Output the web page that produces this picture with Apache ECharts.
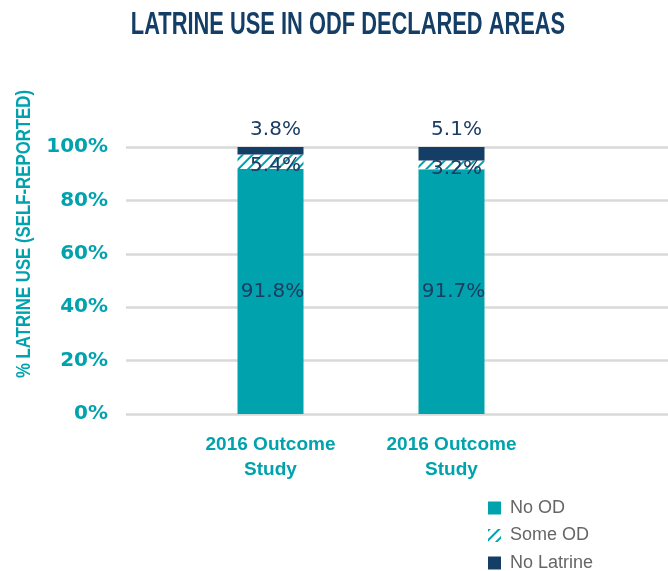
<!DOCTYPE html>
<html>
<head>
<meta charset="utf-8">
<script src="https://cdn.jsdelivr.net/npm/echarts@6/dist/echarts.min.js"></script>
<style>
  html, body { margin: 0; padding: 0; background: #fff; }
  #chart { width: 668px; height: 571px; }
</style>
</head>
<body>
<div id="chart"></div>
<script>
// data
var categories = ['2016 Outcome\nStudy', '2016 Outcome\nStudy', ''];
var noOD = [91.8, 91.7];
var someOD = [5.4, 3.2];
var noLatrine = [3.8, 5.1];
var yTicks = [0, 20, 40, 60, 80, 100];

var teal = '#00a3ad';
var navy = '#143e66';

var chart = echarts.init(document.getElementById('chart'));

var labelStyle = {
  show: true,
  color: '#1b3d63',
  fontFamily: 'DejaVu Sans',
  fontSize: 20,
  formatter: function (p) { return p.value.toFixed(1) + '%'; }
};

var option = {
  animation: false,
  grid: [
    // gridlines + y labels
    { left: 126, right: 0, top: 147, bottom: 157, outerBoundsMode: 'none' },
    // the bars
    { left: 180, width: 543, top: 147, bottom: 157, outerBoundsMode: 'none' }
  ],
  xAxis: [
    { gridIndex: 0, type: 'value', show: false },
    {
      gridIndex: 1,
      type: 'category',
      data: categories,
      axisLine: { show: false },
      axisTick: { show: false },
      axisLabel: {
        margin: 18,
        interval: 0,
        color: teal,
        fontFamily: 'Liberation Sans',
        fontWeight: 'bold',
        fontSize: 19,
        lineHeight: 25
      }
    }
  ],
  yAxis: [
    {
      gridIndex: 0,
      type: 'value',
      min: 0,
      max: 100,
      interval: 20,
      axisLine: { show: false },
      axisTick: { show: false },
      splitLine: { lineStyle: { color: '#d9d9d9', width: 2.5 } },
      axisLabel: {
        margin: 18,
        color: teal,
        fontFamily: 'DejaVu Sans',
        fontWeight: 'bold',
        fontSize: 20,
        formatter: function (v) { return yTicks.indexOf(v) >= 0 ? v + '%' : ''; }
      }
    },
    { gridIndex: 1, type: 'value', min: 0, max: 100, show: false }
  ],
  legend: {
    orient: 'vertical',
    left: 488,
    top: 499,
    height: 120,
    padding: 0,
    icon: 'rect',
    itemWidth: 13,
    itemHeight: 13,
    itemGap: 9.5,
    textStyle: {
      color: '#666666',
      fontFamily: 'Liberation Sans',
      fontSize: 18,
      padding: [0, 0, 0, 4]
    },
    data: ['No OD', 'Some OD', 'No Latrine']
  },
  graphic: [
    {
      // title, condensed look
      type: 'text',
      x: 348,
      y: 25,
      scaleX: 0.705,
      style: {
        text: 'LATRINE USE IN ODF DECLARED AREAS',
        fill: navy,
        font: 'bold 31px "Liberation Sans"',
        align: 'center',
        verticalAlign: 'middle'
      }
    },
    {
      type: 'text',
      x: 24,
      y: 234,
      rotation: Math.PI / 2,
      scaleX: 0.8,
      style: {
        text: '% LATRINE USE (SELF-REPORTED)',
        fill: teal,
        font: 'bold 21px "Liberation Sans"',
        align: 'center',
        verticalAlign: 'middle'
      }
    }
  ],
  series: [
    {
      name: 'No OD',
      type: 'bar',
      stack: 'total',
      xAxisIndex: 1,
      yAxisIndex: 1,
      barWidth: 66,
      data: noOD,
      itemStyle: { color: teal },
      label: Object.assign({}, labelStyle, { position: 'inside', offset: [2, 0] })
    },
    {
      name: 'Some OD',
      type: 'bar',
      stack: 'total',
      xAxisIndex: 1,
      yAxisIndex: 1,
      barWidth: 66,
      data: someOD,
      itemStyle: {
        color: '#ffffff',
        decal: {
          symbol: 'rect',
          symbolSize: 1,
          color: teal,
          dashArrayX: [1, 0],
          dashArrayY: [2, 5],
          rotation: -Math.PI / 4
        }
      },
      label: Object.assign({}, labelStyle, { position: 'inside', offset: [5, 4] })
    },
    {
      name: 'No Latrine',
      type: 'bar',
      stack: 'total',
      xAxisIndex: 1,
      yAxisIndex: 1,
      barWidth: 66,
      data: noLatrine,
      itemStyle: { color: navy },
      label: Object.assign({}, labelStyle, { position: 'top', distance: 7, offset: [5, 0] })
    }
  ]
};

chart.setOption(option);
</script>
</body>
</html>
